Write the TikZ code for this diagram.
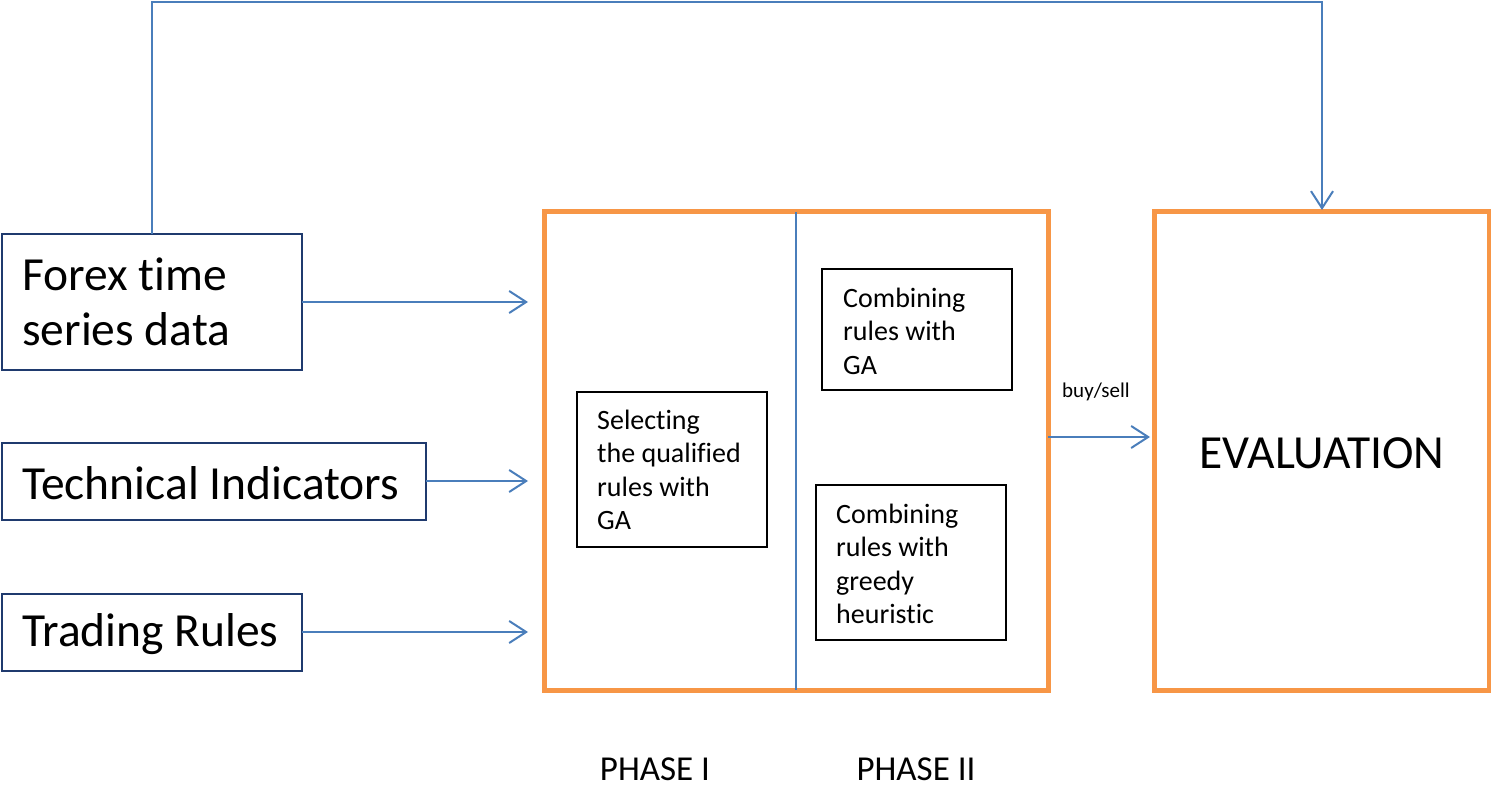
\documentclass[tikz,border=0pt]{standalone}
\usepackage{fontspec}
\setmainfont{Carlito}[Ligatures={CommonOff}]
\usetikzlibrary{arrows.meta}
\definecolor{navy}{HTML}{1F3A6E}
\definecolor{lblue}{HTML}{4A7EBB}
\definecolor{orng}{HTML}{F79646}
\tikzset{
  inbox/.style={draw=navy, line width=2pt, inner sep=0pt, outer sep=0pt, anchor=north west, align=left},
  bigbox/.style={draw=orng, line width=5pt, inner sep=0pt, outer sep=0pt, anchor=north west},
  smallbox/.style={draw=black, line width=2pt, inner sep=0pt, outer sep=0pt, anchor=north west, align=left},
  conn/.style={draw=lblue, line width=2pt, -{Straight Barb[length=17pt,width=22pt,line width=2pt]}},
  bigtxt/.style={font=\fontsize{47.5}{55}\selectfont, inner sep=0pt},
  midtxt/.style={font=\fontsize{28}{33.5}\selectfont, inner sep=0pt},
  phasetxt/.style={font=\fontsize{35}{40}\selectfont, inner sep=0pt, anchor=base},
}
\begin{document}
\begin{tikzpicture}[x=1pt,y=-1pt]
\useasboundingbox (0,0) rectangle (1491,786);
% input boxes
\node[inbox, minimum width=300pt, minimum height=136pt] (forex) at (2,234) {};
\node[bigtxt, anchor=west, align=left] (forext) at (22,302) {Forex time\\series data};
\node[inbox, minimum width=424pt, minimum height=77pt] (tech) at (2,443) {};
\node[bigtxt, anchor=west] (techt) at (22,483) {Technical Indicators};
\node[inbox, minimum width=300pt, minimum height=77pt] (trade) at (2,594) {};
\node[bigtxt, anchor=west] (tradet) at (22,634) {Trading Rules};
% main process box
\node[bigbox, minimum width=504pt, minimum height=478pt] (main) at (544,212) {};
\draw[lblue, line width=1.5pt] (796,212) coordinate (divtop) -- (divtop |- main.south);
% inner boxes
\node[smallbox, minimum width=190pt, minimum height=155pt] (sel) at (577,392) {};
\node[midtxt, anchor=west, align=left] (selt) at (597,470) {Selecting\\the qualified\\rules with\\GA};
\node[smallbox, minimum width=190pt, minimum height=121pt] (cga) at (822,269) {};
\node[midtxt, anchor=west, align=left] (cgat) at (843,331) {Combining\\rules with\\GA};
\node[smallbox, minimum width=190pt, minimum height=155pt] (cgr) at (816,485) {};
\node[midtxt, anchor=west, align=left] (cgrt) at (836,564) {Combining\\rules with\\greedy\\heuristic};
% evaluation
\node[bigbox, minimum width=335pt, minimum height=478pt] (eval) at (1154,212) {};
\node[bigtxt] (evalt) at (1322,453) {EVALUATION};
% phase labels
\node[phasetxt] (ph1) at (655,780) {PHASE I};
\node[phasetxt] (ph2) at (916,780) {PHASE II};
% connectors
\coordinate (t1) at (528,302);
\coordinate (t2) at (528,481);
\coordinate (t3) at (528,632);
\draw[conn] (forex.east |- t1) -- (t1);
\draw[conn] (tech.east |- t2) -- (t2);
\draw[conn] (trade.east |- t3) -- (t3);
\coordinate (bs) at (1150,437);
\draw[conn] (main.east |- bs) -- (bs);
\node[font=\fontsize{21}{24}\selectfont, inner sep=0pt] (bsl) at (1096,392) {buy/sell};
\coordinate (c1) at (152,2);
\coordinate (c2) at (1322,2);
\coordinate (evtop) at (1322,210);
\draw[conn] (forex.north -| c1) -- (c1) -- (c2) -- (evtop);
\end{tikzpicture}
\end{document}
